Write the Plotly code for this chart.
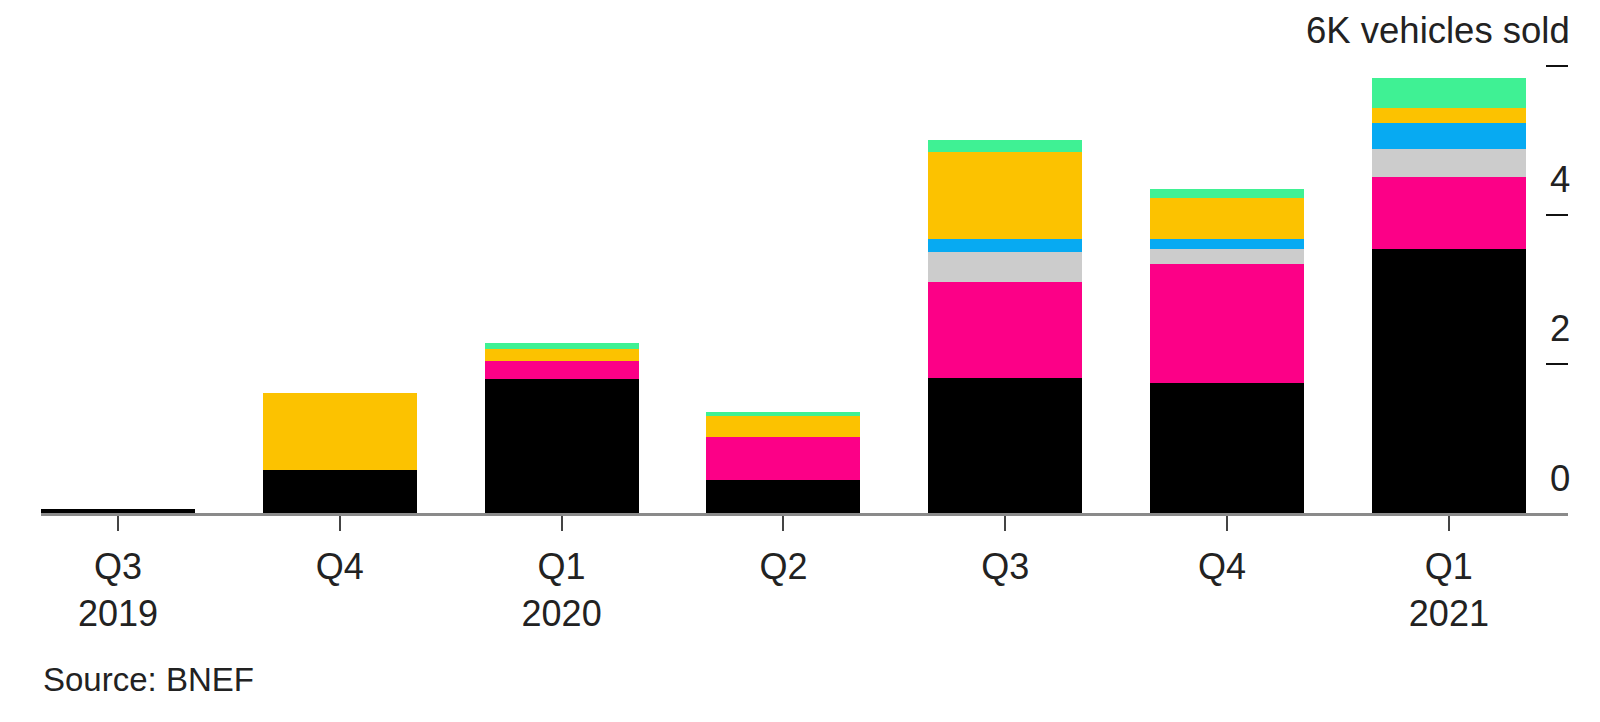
import plotly.graph_objects as go

# ---- Data (thousand vehicles sold per quarter) ----
quarters = ["Q3<br>2019", "Q4", "Q1<br>2020", "Q2", "Q3", "Q4 ", "Q1<br>2021"]

seg_black  = [0.05, 0.58, 1.80, 0.44, 1.81, 1.74, 3.54]
seg_pink   = [0.00, 0.00, 0.24, 0.58, 1.29, 1.60, 0.97]
seg_gray   = [0.00, 0.00, 0.00, 0.00, 0.40, 0.20, 0.38]
seg_blue   = [0.00, 0.00, 0.00, 0.00, 0.17, 0.13, 0.34]
seg_yellow = [0.00, 1.03, 0.16, 0.28, 1.18, 0.55, 0.20]
seg_green  = [0.00, 0.00, 0.08, 0.05, 0.15, 0.13, 0.40]

series = [
    ("Black", seg_black, "#000000"),
    ("Pink", seg_pink, "#fc0087"),
    ("Gray", seg_gray, "#cccccc"),
    ("Blue", seg_blue, "#07aaf2"),
    ("Yellow", seg_yellow, "#fcc200"),
    ("Green", seg_green, "#3ff194"),
]

y_tickvals = [0, 2, 4, 6]
y_ticktext = ["0", "2", "4", "6K vehicles sold"]
source_text = "Source: BNEF"

FONT = "Liberation Sans, Arial, Helvetica, sans-serif"
TXT = "#222222"

fig = go.Figure()
for name, vals, color in series:
    fig.add_trace(go.Bar(
        x=quarters, y=vals, name=name,
        marker=dict(color=color, line=dict(width=0)),
        showlegend=False, hoverinfo="x+y+name",
    ))

annotations = []
for v, t in zip(y_tickvals, y_ticktext):
    annotations.append(dict(
        x=1, xref="paper", xanchor="right", xshift=4,
        y=v, yref="y", yanchor="middle", yshift=35,
        text=t, showarrow=False,
        font=dict(family=FONT, size=36.5, color=TXT),
    ))
annotations.append(dict(
    x=0, xref="paper", xanchor="left",
    y=-0.344, yref="paper", yanchor="middle",
    text=source_text, showarrow=False,
    font=dict(family=FONT, size=33, color=TXT),
))

fig.update_layout(
    barmode="stack",
    bargap=0.306,
    width=1592, height=714,
    margin=dict(l=33, r=32, t=22, b=209),
    paper_bgcolor="white", plot_bgcolor="white",
    font=dict(family=FONT, size=36, color=TXT),
    xaxis=dict(
        type="category",
        range=[-0.347, 6.537],
        showgrid=False, zeroline=False,
        showline=True, linecolor="#8a8a8a", linewidth=3,
        ticks="outside", ticklen=15, tickwidth=2, tickcolor="#444444",
        ticklabelstandoff=5,
        tickfont=dict(family=FONT, size=36, color=TXT),
    ),
    yaxis=dict(
        range=[0, 6.48],
        side="right",
        showgrid=False, zeroline=False, showline=False,
        ticks="inside", ticklen=22, tickwidth=2, tickcolor="#111111",
        tickvals=y_tickvals, showticklabels=False,
    ),
    annotations=annotations,
)

fig.write_html("out.html")
